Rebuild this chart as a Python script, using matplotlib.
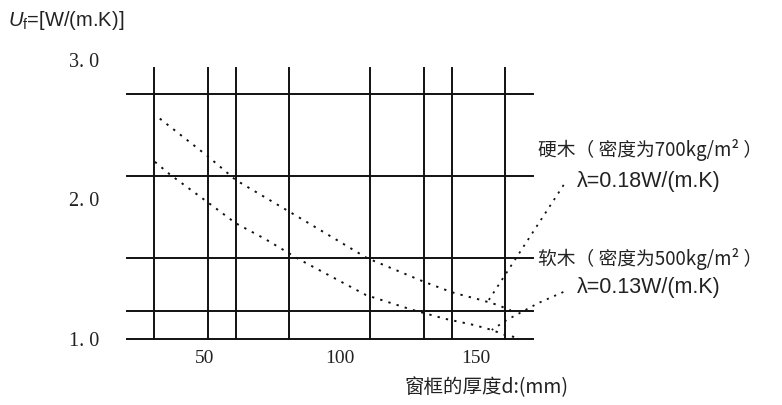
import matplotlib
matplotlib.use("Agg")
import matplotlib.pyplot as plt

plt.rcParams['font.family'] = ['Noto Sans CJK SC', 'DejaVu Sans']
plt.rcParams['mathtext.fontset'] = 'custom'
plt.rcParams['mathtext.rm'] = 'Liberation Sans'
plt.rcParams['mathtext.it'] = 'Liberation Sans:italic'

# hardwood (700 kg/m3) and softwood (500 kg/m3) frame U-values
hard_d = [33.5, 51.2, 61.5, 85.0, 110.0, 131.0, 141.3, 146.0, 152.0, 158.0, 163.0]
hard_u = [2.58, 2.31, 2.14, 1.87, 1.58, 1.41, 1.335, 1.31, 1.28, 1.245, 1.205]
soft_d = [31.7, 37.2, 51.2, 61.5, 72.1, 85.0, 109.6, 126.5, 138.7, 149.5, 156.0, 160.7, 166.0]
soft_u = [2.27, 2.18, 1.98, 1.83, 1.72, 1.57, 1.315, 1.21, 1.145, 1.10, 1.065, 1.03, 1.007]

# leader lines from labels to curves
hard_lead_d = [154.9, 183.2]
hard_lead_u = [1.28, 2.125]
soft_lead_d = [182.4, 173.2, 161.5, 156.0]
soft_lead_u = [1.337, 1.258, 1.136, 1.065]

grid_x = [31.3, 51.2, 61.5, 81.1, 111.1, 130.9, 141.3, 161.0]
grid_y = [2.756, 2.168, 1.581, 1.2, 1.0]
grid_top = 2.943

xticks = [50, 100, 150]
yticks = [1.0, 2.0, 3.0]
ytick_labels = ['1. 0', '2. 0', '3. 0']

W, H = 782, 405
fig = plt.figure(figsize=(7.82, 4.05), dpi=100)
ax = fig.add_axes([127 / W, 1 - 339 / H, 406 / W, 279 / H])
ax.set_xlim(21.4, 171.2)
ax.set_ylim(1.0, 3.0)
for s in ax.spines.values():
    s.set_visible(False)

ink = '#111111'
for gx in grid_x:
    ax.plot([gx, gx], [1.0, grid_top], color=ink, lw=1.4, clip_on=False)
for gy in grid_y:
    ax.plot([21.4, 171.2], [gy, gy], color=ink, lw=1.4, clip_on=False)

dot = (0, (1.2, 3.2))
ax.plot(hard_d, hard_u, color=ink, lw=1.4, ls=dot, clip_on=False)
ax.plot(soft_d, soft_u, color=ink, lw=1.4, ls=dot, clip_on=False)
ax.plot(hard_lead_d, hard_lead_u, color=ink, lw=1.3, ls=dot, clip_on=False)
ax.plot(soft_lead_d, soft_lead_u, color=ink, lw=1.3, ls=dot, clip_on=False)

ax.set_xticks(xticks)
ax.set_xticklabels([str(t) for t in xticks], family='Liberation Serif', fontsize=14, color='#222222')
ax.set_yticks(yticks)
ax.set_yticklabels(ytick_labels, family='Liberation Serif', fontsize=14.5, color='#222222')
ax.tick_params(axis='both', length=0)
ax.tick_params(axis='x', pad=8)
ax.tick_params(axis='y', pad=20)

def px(x, y):
    return x / W, 1 - y / H

fig.text(*px(8, 20), r'$\mathit{U}_{\mathrm{f}}$=[W/(m.K)]', family='Liberation Sans',
         fontsize=14.5, va='center', ha='left', color='#222222')

fig.text(*px(538, 150), '硬木（ 密度为700kg/m² ）', fontsize=13.5, va='center', ha='left', color='#222222')
fig.text(*px(577, 182), 'λ=0.18W/(m.K)', family='Liberation Sans', fontsize=15.5,
         va='center', ha='left', color='#222222')
fig.text(*px(538, 259), '软木（ 密度为500kg/m² ）', fontsize=13.5, va='center', ha='left', color='#222222')
fig.text(*px(577, 287), 'λ=0.13W/(m.K)', family='Liberation Sans', fontsize=15.5,
         va='center', ha='left', color='#222222')
fig.text(*px(405, 388), '窗框的厚度d:(mm)', fontsize=14, va='center', ha='left', color='#222222')

fig.savefig('out.png', dpi=100)
